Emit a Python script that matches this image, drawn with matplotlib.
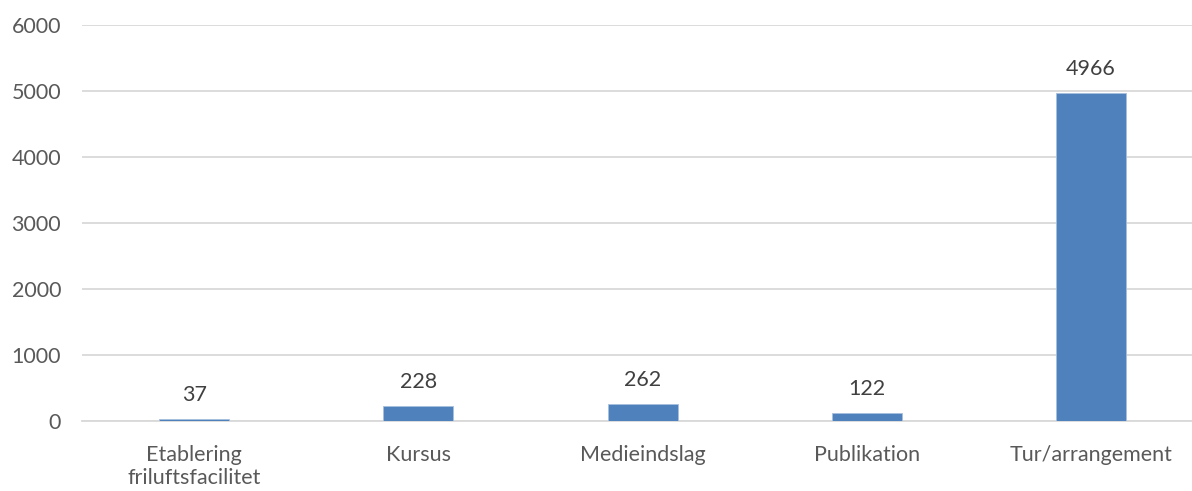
import matplotlib
matplotlib.use("Agg")
import matplotlib.pyplot as plt

categories = ["Etablering\nfriluftsfacilitet", "Kursus", "Medieindslag", "Publikation", "Tur/arrangement"]
values = [37, 228, 262, 122, 4966]
yticks = [0, 1000, 2000, 3000, 4000, 5000, 6000]

plt.rcParams['font.family'] = ['Lato', 'DejaVu Sans']
FS = 15.5

W, H = 1192, 491
fig = plt.figure(figsize=(W / 100, H / 100), dpi=100)
left, right, top, bottom = 82, 1192, 25, 421
ax = fig.add_axes([left / W, 1 - bottom / H, (right - left) / W, (bottom - top) / H])

x = list(range(len(categories)))
ax.bar(x, values, width=0.3125, color="#4F81BD", edgecolor="#A7C0DE", linewidth=0.6, zorder=3)

for xi, v in zip(x, values):
    ax.annotate(str(v), (xi, v), xytext=(0, 10), textcoords="offset points",
                ha="center", va="bottom", fontsize=FS, color="#404040")

ax.set_ylim(0, 6000)
ax.set_xlim(-0.5, (right - left) / 224.25 - 0.5)
ax.set_yticks(yticks)
ax.set_yticklabels([str(t) for t in yticks])
ax.set_xticks(x)
ax.set_xticklabels(categories, linespacing=1.2)
ax.yaxis.grid(True, color="#D9D9D9", linewidth=1.3, zorder=0)
ax.set_axisbelow(True)
for s in ["top", "right", "left"]:
    ax.spines[s].set_visible(False)
ax.spines["bottom"].set_color("#D9D9D9")
ax.spines["bottom"].set_linewidth(1.3)
ax.tick_params(axis="both", length=0, labelsize=FS, colors="#595959")
ax.tick_params(axis="y", pad=15)
ax.tick_params(axis="x", pad=17)

fig.savefig("out.png", dpi=100)
